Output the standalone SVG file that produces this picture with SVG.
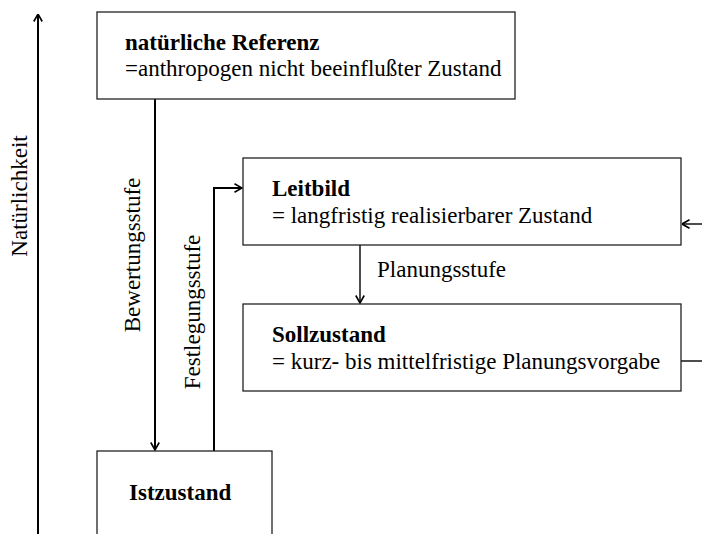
<svg xmlns="http://www.w3.org/2000/svg" width="702" height="534" viewBox="0 0 702 534">
<style>
.box{fill:#fff;stroke:#222;stroke-width:1.3}
.t{font-family:"Liberation Serif","Times New Roman",serif;font-size:23px;fill:#000}
.b{font-weight:bold}
.c{fill:none;stroke:#000;stroke-width:2}
.c1{fill:none;stroke:#000;stroke-width:1.4}
</style>
<defs>
<marker id="ah" viewBox="0 0 10 10" refX="9.5" refY="5" markerWidth="10" markerHeight="10" markerUnits="userSpaceOnUse" orient="auto">
<path d="M2,0.8 L9.5,5 L2,9.2" fill="none" stroke="#000" stroke-width="1.6"/>
</marker>
</defs>
<rect width="702" height="534" fill="#fff"/>
<g id="connectors">
<line class="c" x1="38" y1="534" x2="38" y2="14" marker-end="url(#ah)"/>
<line class="c" x1="155" y1="99" x2="155" y2="450" marker-end="url(#ah)"/>
<polyline class="c" points="214,451 214,188 242,188" marker-end="url(#ah)"/>
<line class="c1" x1="360" y1="245" x2="360" y2="303" marker-end="url(#ah)"/>
<line class="c1" x1="702" y1="224" x2="682" y2="224" marker-end="url(#ah)"/>
<line class="c1" x1="681" y1="361" x2="702" y2="361"/>
</g>
<g id="labels">
<text class="t" transform="translate(27,196) rotate(-90)" text-anchor="middle">Natürlichkeit</text>
<text class="t" transform="translate(140,255) rotate(-90)" text-anchor="middle">Bewertungsstufe</text>
<text class="t" transform="translate(200,312) rotate(-90)" text-anchor="middle">Festlegungsstufe</text>
<text class="t" x="377" y="277">Planungsstufe</text>
</g>
<g id="referenz">
<rect class="box" x="97" y="12" width="418" height="87"/>
<text class="t b" x="125" y="50">natürliche Referenz</text>
<text class="t" x="125" y="76">=anthropogen nicht beeinflußter Zustand</text>
</g>
<g id="leitbild">
<rect class="box" x="243" y="158" width="438" height="87"/>
<text class="t b" x="272" y="196">Leitbild</text>
<text class="t" x="272" y="223">= langfristig realisierbarer Zustand</text>
</g>
<g id="sollzustand">
<rect class="box" x="243" y="304" width="438" height="87"/>
<text class="t b" x="272" y="342">Sollzustand</text>
<text class="t" x="272" y="369">= kurz- bis mittelfristige Planungsvorgabe</text>
</g>
<g id="istzustand">
<rect class="box" x="97" y="451" width="175" height="100"/>
<text class="t b" x="129" y="500">Istzustand</text>
</g>
</svg>
